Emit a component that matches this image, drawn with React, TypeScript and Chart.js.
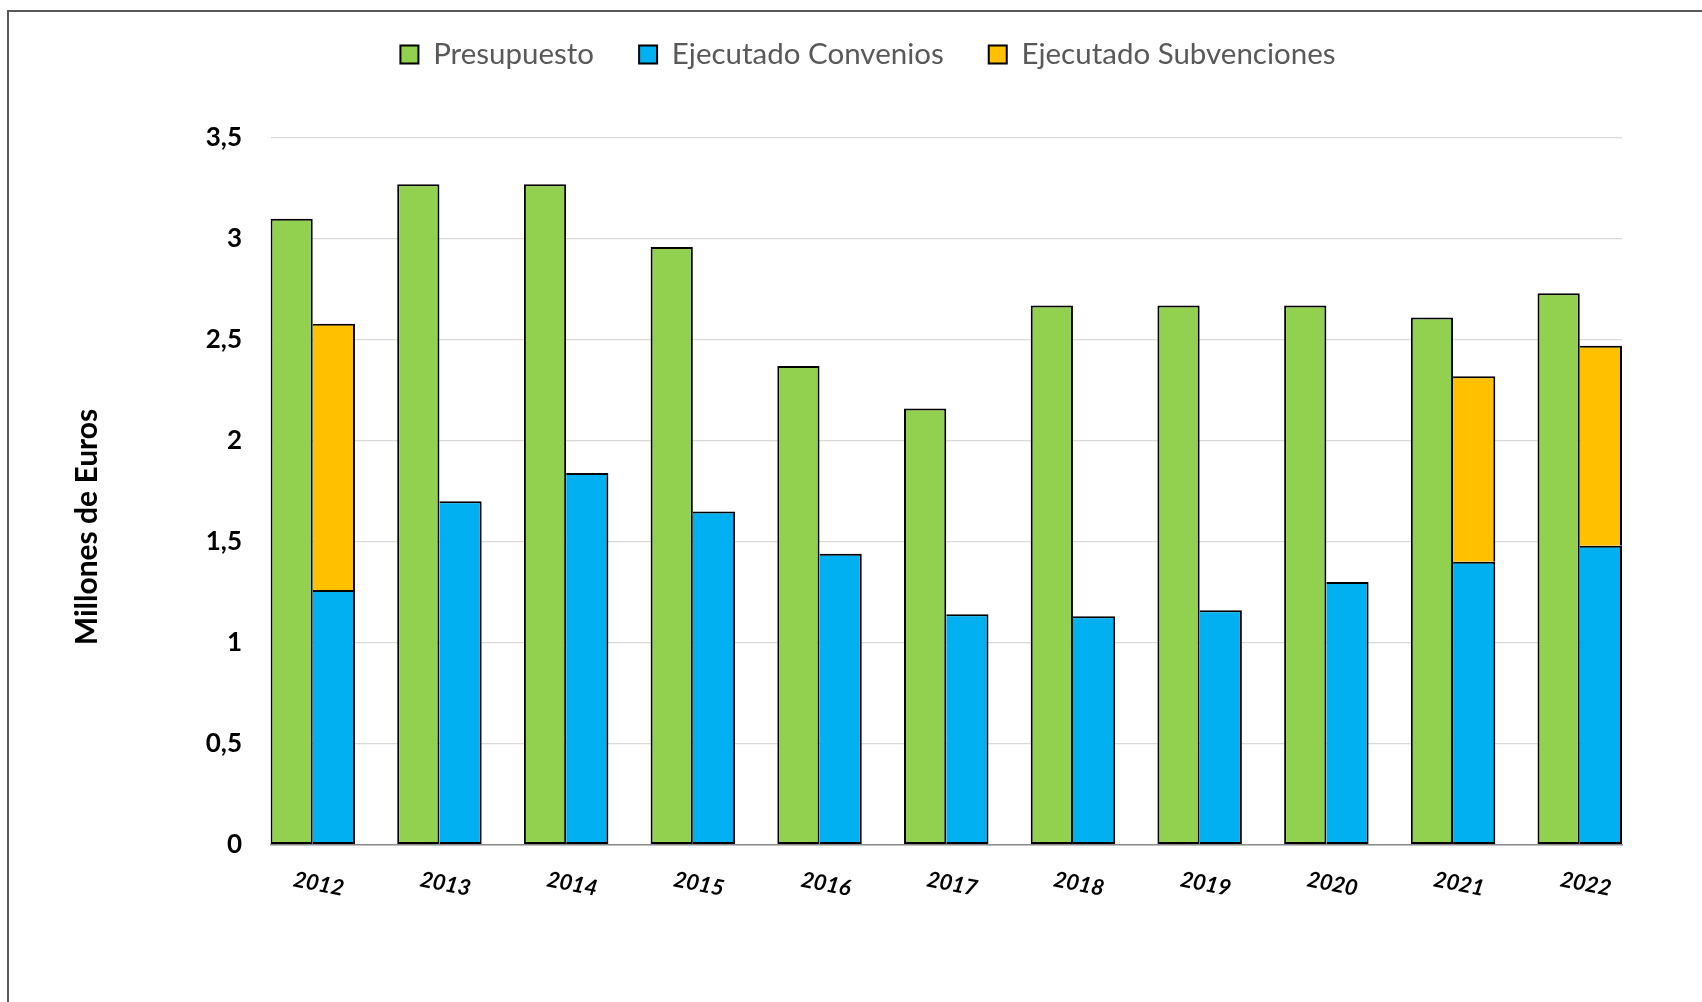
import React, { useEffect, useRef } from 'react';
import { Chart, registerables } from 'chart.js';

Chart.register(...registerables);

// ---- Data ----
const years = ['2012', '2013', '2014', '2015', '2016', '2017', '2018', '2019', '2020', '2021', '2022'];
const presupuesto = [3.10, 3.27, 3.27, 2.96, 2.37, 2.16, 2.67, 2.67, 2.67, 2.61, 2.73];
const convenios = [1.26, 1.70, 1.84, 1.65, 1.44, 1.14, 1.13, 1.16, 1.30, 1.40, 1.48];
const subvenciones = [1.32, null, null, null, null, null, null, null, null, 0.92, 0.99];
const seriesNames = ['Presupuesto', 'Ejecutado Convenios', 'Ejecutado Subvenciones'];
const yTicks = [0, 0.5, 1, 1.5, 2, 2.5, 3, 3.5];
const yTitle = 'Millones de Euros';

// ---- Style ----
const GREEN = '#92D050';
const BLUE = '#00B0F0';
const ORANGE = '#FFC000';
const FONT = 'Lato';
const W = 1702;
const H = 1002;

const pts = (arr: (number | null)[]) => arr.map((y, i) => ({ x: i, y }));

const legendHeightPlugin = {
  id: 'legendHeight',
  beforeLayout(chart: any) {
    const lg = chart.legend;
    if (lg && !lg.__patched) {
      const orig = lg.fit.bind(lg);
      lg.fit = function () {
        orig();
        this.height = 143.15;
      };
      lg.__patched = true;
    }
  },
};

const yTitlePlugin = {
  id: 'yTitleText',
  afterDraw(chart: any) {
    const ctx = chart.ctx;
    ctx.save();
    ctx.translate(87, 527);
    ctx.rotate(-Math.PI / 2);
    ctx.font = `bold 30px ${FONT}`;
    ctx.fillStyle = '#000';
    ctx.textAlign = 'center';
    ctx.textBaseline = 'middle';
    ctx.fillText(yTitle, 0, 0);
    ctx.restore();
  },
};

export default function App() {
  const ref = useRef<HTMLCanvasElement>(null);

  useEffect(() => {
    let chart: Chart | null = null;
    let cancelled = false;
    const fonts: any = (document as any).fonts;
    const ready = fonts
      ? Promise.all([
          fonts.load(`29px ${FONT}`),
          fonts.load(`bold 30px ${FONT}`),
          fonts.load(`italic bold 22px ${FONT}`),
        ]).catch(() => null)
      : Promise.resolve(null);

    ready.then(() => {
      if (cancelled || !ref.current) return;
      const barCommon = {
        borderColor: '#000000',
        borderSkipped: false as const,
        categoryPercentage: 2 / 3,
        barPercentage: 1,
      };
      chart = new Chart(ref.current, {
        type: 'bar',
        data: {
          datasets: [
            {
              ...barCommon,
              label: seriesNames[0],
              data: pts(presupuesto),
              backgroundColor: GREEN,
              borderWidth: 2,
              stack: 'p',
            },
            {
              ...barCommon,
              label: seriesNames[1],
              data: pts(convenios),
              backgroundColor: BLUE,
              borderWidth: { top: 2, right: 2, bottom: 2, left: 0 },
              stack: 'e',
            },
            {
              ...barCommon,
              label: seriesNames[2],
              data: pts(subvenciones),
              backgroundColor: ORANGE,
              borderWidth: { top: 2, right: 2, bottom: 0, left: 0 },
              stack: 'e',
            },
          ] as any,
        },
        options: {
          responsive: false,
          animation: false,
          devicePixelRatio: 1,
          layout: { padding: { left: 114, right: 80, top: -5.25, bottom: 0 } },
          plugins: {
            tooltip: { enabled: false },
            legend: {
              display: true,
              position: 'top',
              labels: {
                boxWidth: 18,
                boxHeight: 18,
                padding: 45,
                color: '#595959',
                font: { family: FONT, size: 29.5 },
                generateLabels: (c: any) =>
                  (Chart.defaults.plugins.legend.labels as any)
                    .generateLabels(c)
                    .map((l: any) => ({ ...l, lineWidth: 2 })),
              },
            },
          },
          scales: {
            x: {
              type: 'linear',
              min: -1 / 3,
              max: years.length - 1 + 1 / 3,
              stacked: true,
              offset: false,
              afterBuildTicks: (s: any) => {
                s.ticks = years.map((_, i) => ({ value: i }));
              },
              afterFit: (s: any) => {
                s.height = 157.5;
              },
              grid: { display: false, drawTicks: false },
              border: { display: true, color: '#8c8c8c', width: 1.5 },
              ticks: {
                autoSkip: false,
                minRotation: -11,
                maxRotation: -11,
                labelOffset: 31,
                padding: 31.5,
                color: '#000000',
                font: { family: FONT, size: 22, weight: 'bold', style: 'italic' },
                callback: (v: any) => years[Math.round(Number(v))] ?? '',
              },
            } as any,
            y: {
              stacked: true,
              min: yTicks[0],
              max: yTicks[yTicks.length - 1],
              afterFit: (s: any) => {
                s.width = 156.5;
              },
              grid: { color: '#D9D9D9', lineWidth: 1.2, drawTicks: false },
              border: { display: false },
              ticks: {
                stepSize: yTicks[1] - yTicks[0],
                padding: 28.5,
                color: '#000000',
                font: { family: FONT, size: 26, weight: 'bold' },
                callback: (v: any) => String(v).replace('.', ','),
              },
            } as any,
          },
        },
        plugins: [legendHeightPlugin, yTitlePlugin],
      });
    });

    return () => {
      cancelled = true;
      if (chart) chart.destroy();
    };
  }, []);

  return (
    <div style={{ position: 'fixed', left: 0, top: 0, width: W, height: H, overflow: 'hidden', background: '#fff' }}>
      <div
        style={{
          position: 'absolute',
          left: 7,
          top: 10,
          width: 2000,
          height: 2000,
          border: '2px solid #595959',
          boxSizing: 'border-box',
        }}
      />
      <canvas
        ref={ref}
        width={W}
        height={H}
        style={{ position: 'absolute', left: 0, top: 0, width: W, height: H, display: 'block' }}
      />
    </div>
  );
}
